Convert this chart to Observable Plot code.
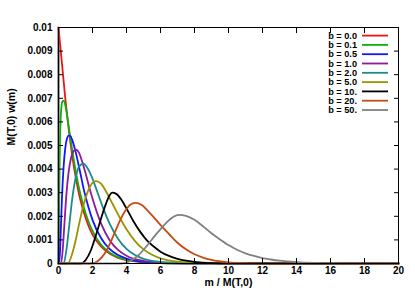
<!DOCTYPE html>
<html><head><meta charset="utf-8">
<script src="https://cdn.jsdelivr.net/npm/d3@7"></script>
<script src="https://cdn.jsdelivr.net/npm/@observablehq/plot@0.6"></script>
<style>body{margin:0;background:#fff;} #chart{width:415px;height:291px;}</style>
</head><body><div id="chart"></div>
<script>
const bLabels = ["b = 0.0","b = 0.1","b = 0.5","b = 1.0","b = 2.0","b = 5.0","b = 10.","b = 20.","b = 50."];
const colors = ["#f01414","#10b010","#1414ff","#8c1a9c","#1a8c8c","#9a9400","#000000","#c84a12","#808080"];
const xTicks = [0,2,4,6,8,10,12,14,16,18,20];
const yTicks = [0,0.001,0.002,0.003,0.004,0.005,0.006,0.007,0.008,0.009,0.01];
const xLabel = "m / M(T,0)";
const yLabel = "M(T,0) w(m)";

const x_b00 = [0,0.2,0.4,0.6,0.8,1.0,1.25,1.5,1.75,2,2.5,3,3.5,4,5,6,7,8,20];
const y_b00 = [0.01,0.0085,0.0070,0.0057,0.0046,0.0037,0.0028,0.00215,0.00162,0.00122,0.00072,0.00042,0.00024,0.00014,0.00005,0.00002,0.000008,0.000003,0];
const x_b01 = [0,0.03,0.07,0.12,0.18,0.24,0.31,0.4,0.5,0.6,0.8,1.0,1.25,1.5,1.75,2,2.5,3,3.5,4,5,6,7,8,20];
const y_b01 = [0,0.0020,0.0044,0.0060,0.0067,0.00688,0.0069,0.0067,0.0063,0.0058,0.00485,0.00395,0.00305,0.00235,0.0018,0.00138,0.0008,0.00047,0.00027,0.00016,0.000055,0.00002,0.000008,0.000003,0];
const x_b05 = [0,0.04,0.1,0.15,0.2,0.3,0.4,0.5,0.6,0.7,0.8,1.0,1.25,1.5,1.75,2,2.5,3,3.5,4,5,6,7,8,20];
const y_b05 = [0,0,0.0007,0.0017,0.0027,0.0041,0.0049,0.0053,0.00542,0.0054,0.00525,0.00475,0.00395,0.0031,0.00242,0.00185,0.00108,0.00062,0.00036,0.00021,0.00007,0.000025,0.000009,0.000003,0];
const x_b1 = [0,0.15,0.25,0.35,0.45,0.6,0.75,0.9,1.04,1.2,1.4,1.6,1.8,2,2.5,3,3.5,4,5,6,7,8,20];
const y_b1 = [0,0,0.0006,0.0017,0.0028,0.0039,0.0045,0.00478,0.00482,0.0047,0.0043,0.0038,0.00325,0.00275,0.0017,0.0010,0.00058,0.00033,0.00011,0.00004,0.000015,0.000005,0];
const x_b2 = [0,0.3,0.45,0.6,0.8,1.0,1.2,1.47,1.7,2.0,2.3,2.6,3,3.5,4,4.5,5,6,7,8,20];
const y_b2 = [0,0,0.0005,0.0014,0.0027,0.0036,0.0041,0.00423,0.00405,0.0036,0.0030,0.0024,0.0017,0.00105,0.00062,0.00036,0.0002,0.000065,0.00002,0.000007,0];
const x_b5 = [0,0.55,0.8,1.0,1.25,1.5,1.75,2.0,2.2,2.5,2.8,3.2,3.6,4,4.5,5,5.5,6,7,8,9,20];
const y_b5 = [0,0,0.0004,0.00095,0.0018,0.00255,0.0031,0.00342,0.00349,0.00338,0.00305,0.0025,0.00195,0.00145,0.00095,0.0006,0.00037,0.00022,0.00008,0.00003,0.00001,0];
const x_b10 = [0,1.3,1.6,1.9,2.2,2.5,2.8,3.0,3.16,3.4,3.7,4.0,4.4,4.8,5.2,5.6,6,6.5,7,7.5,8,9,10,20];
const y_b10 = [0,0,0.00015,0.00055,0.0012,0.0019,0.00255,0.00288,0.0030,0.00295,0.0027,0.00233,0.0018,0.00135,0.00098,0.00072,0.0005,0.00032,0.0002,0.00012,0.00007,0.00002,0.000007,0];
const x_b20 = [0,1.9,2.3,2.7,3.0,3.3,3.6,3.9,4.2,4.53,4.9,5.3,5.7,6.1,6.5,7,7.5,8,8.5,9,10,11,12,20];
const y_b20 = [0,0,0.0001,0.0004,0.0008,0.0013,0.0018,0.0022,0.00248,0.00257,0.00248,0.0022,0.00188,0.00155,0.00125,0.00088,0.0006,0.00039,0.00025,0.00015,0.00005,0.000017,0.000005,0];
const x_b50 = [0,3.7,4.2,4.7,5.2,5.7,6.2,6.6,7.08,7.5,8,8.5,9,9.5,10,10.5,11,11.5,12,12.5,13,14,15,16,17,20];
const y_b50 = [0,0,0.0001,0.00035,0.00075,0.0012,0.00162,0.0019,0.00206,0.00202,0.00185,0.00158,0.00128,0.00102,0.00078,0.00058,0.00043,0.00032,0.00023,0.00017,0.00012,0.00006,0.000027,0.000011,0.000004,0];

const xsList = [x_b00,x_b01,x_b05,x_b1,x_b2,x_b5,x_b10,x_b20,x_b50];
const ysList = [y_b00,y_b01,y_b05,y_b1,y_b2,y_b5,y_b10,y_b20,y_b50];
const series = bLabels.map((b,i)=>({b, color: colors[i], pts: xsList[i].map((x,j)=>({x, y: ysList[i][j]}))}));

const font = "'Liberation Sans', Arial, Helvetica, sans-serif";
const plot = Plot.plot({
  width:415, height:291,
  marginLeft:58, marginRight:17, marginTop:27, marginBottom:28,
  style:{fontFamily:font, fontSize:"10px", fontWeight:"bold", background:"#fff", color:"#000", overflow:"visible"},
  x:{domain:[0,20]},
  y:{domain:[0,0.01]},
  marks:[
    Plot.ruleX([0], {y1:0, y2:0.01, stroke:"#808080", strokeWidth:2.5}),
    ...series.map(s=>Plot.line(s.pts, {x:"x", y:"y", stroke:s.color, strokeWidth:1.8, curve:"monotone-x", strokeLinejoin:"round"})),
    Plot.frame({stroke:"#000", strokeWidth:1}),
    Plot.axisX(xTicks, {anchor:"bottom", tickSize:0, tickPadding:3, tickFormat:d=>String(d), label:null}),
    Plot.axisX(xTicks, {anchor:"bottom", tickSize:-5, tickFormat:()=>"", label:null}),
    Plot.axisX(xTicks, {anchor:"top", tickSize:-5, tickFormat:()=>"", label:null}),
    Plot.axisY(yTicks, {anchor:"left", tickSize:0, tickPadding:6, tickFormat:d=>String(d), label:null}),
    Plot.axisY(yTicks, {anchor:"left", tickSize:-5, tickFormat:()=>"", label:null}),
    Plot.axisY(yTicks, {anchor:"right", tickSize:-5, tickFormat:()=>"", label:null}),
    Plot.text([yLabel], {frameAnchor:"left", dx:-47, rotate:-90, fontSize:10.5, fontWeight:"bold"}),
    Plot.text([xLabel], {frameAnchor:"bottom", dy:22, fontSize:10.5, fontWeight:"bold"})
  ]
});
document.getElementById("chart").appendChild(plot);

// legend (gnuplot-style key, top right inside the frame)
const svg = d3.select(plot);
const key = svg.append("g").attr("font-family", font).attr("font-size", 9.2).attr("font-weight", "bold");
series.forEach((s,i)=>{
  const yy = 35.6 + i*9.3;
  key.append("text").attr("x", 357).attr("y", yy).attr("dy", "0.35em").attr("text-anchor","end").attr("fill","#000").text(s.b);
  key.append("line").attr("x1", 362).attr("x2", 388).attr("y1", yy).attr("y2", yy).attr("stroke", s.color).attr("stroke-width", 1.8);
});
</script>
</body></html>
